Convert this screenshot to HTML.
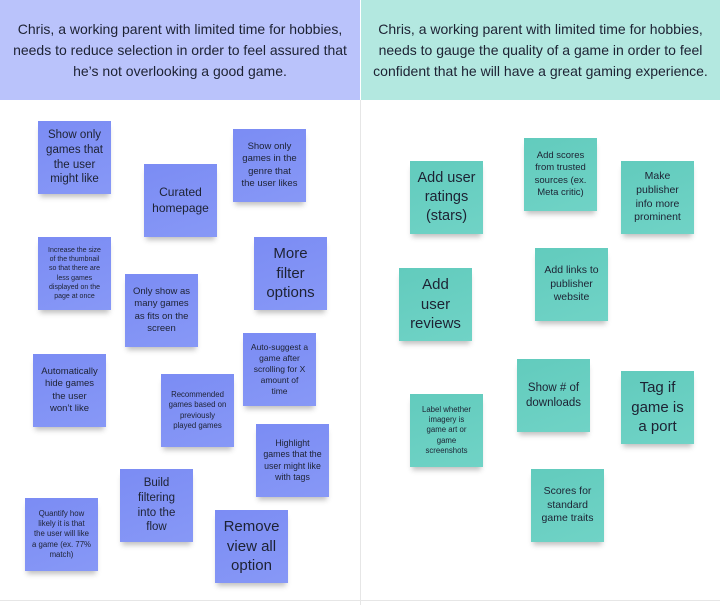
<!DOCTYPE html>
<html><head><meta charset="utf-8"><style>
*{margin:0;padding:0;box-sizing:border-box}
body{width:720px;height:605px;background:#fff;position:relative;overflow:hidden;font-family:"Liberation Sans",sans-serif;color:#1d2233}
.hd{position:absolute;top:0;height:100px;display:flex;align-items:center;justify-content:center;text-align:center;font-size:14px;line-height:21px;padding:0 12px}
.s{position:absolute;width:73px;height:73px;display:flex;align-items:center;justify-content:center;text-align:center;padding:0;line-height:1.3;white-space:nowrap;box-shadow:0 5px 5px -2px rgba(0,0,0,0.25)}
.p{background:linear-gradient(160deg,#7b8cf4,#8798f6)}
.t{background:linear-gradient(160deg,#62cbbd,#70d3c6)}
</style></head><body>
<div class="hd" style="left:0;width:360px;background:#bac3fb">Chris, a working parent with limited time for hobbies, needs to reduce selection in order to feel assured that he’s not overlooking a good game.</div>
<div class="hd" style="left:361px;width:359px;background:#b3e8e0">Chris, a working parent with limited time for hobbies, needs to gauge the quality of a game in order to feel confident that he will have a great gaming experience.</div>
<div style="position:absolute;left:360px;top:100px;width:1px;height:505px;background:#e6e6e6"></div>
<div style="position:absolute;left:0;top:600px;width:720px;height:1px;background:#e6e6e6"></div>

<div class="s p" style="left:38px;top:121px;font-size:11.5px">Show only<br>games that<br>the user<br>might like</div>
<div class="s p" style="left:144px;top:164px;font-size:12px">Curated<br>homepage</div>
<div class="s p" style="left:233px;top:129px;font-size:9.5px">Show only<br>games in the<br>genre that<br>the user likes</div>
<div class="s p" style="left:38px;top:237px;font-size:7px">Increase the size<br>of the thumbnail<br>so that there are<br>less games<br>displayed on the<br>page at once</div>
<div class="s p" style="left:125px;top:274px;font-size:9.5px">Only show as<br>many games<br>as fits on the<br>screen</div>
<div class="s p" style="left:254px;top:237px;font-size:15px">More<br>filter<br>options</div>
<div class="s p" style="left:243px;top:333px;font-size:8.5px">Auto-suggest a<br>game after<br>scrolling for X<br>amount of<br>time</div>
<div class="s p" style="left:33px;top:354px;font-size:9.5px">Automatically<br>hide games<br>the user<br>won’t like</div>
<div class="s p" style="left:161px;top:374px;font-size:7.8px">Recommended<br>games based on<br>previously<br>played games</div>
<div class="s p" style="left:256px;top:424px;font-size:8.8px">Highlight<br>games that the<br>user might like<br>with tags</div>
<div class="s p" style="left:120px;top:469px;font-size:11.5px">Build<br>filtering<br>into the<br>flow</div>
<div class="s p" style="left:25px;top:498px;font-size:7.8px">Quantify how<br>likely it is that<br>the user will like<br>a game (ex. 77%<br>match)</div>
<div class="s p" style="left:215px;top:510px;font-size:15px">Remove<br>view all<br>option</div>

<div class="s t" style="left:410px;top:161px;font-size:14.5px">Add user<br>ratings<br>(stars)</div>
<div class="s t" style="left:524px;top:138px;font-size:9.5px">Add scores<br>from trusted<br>sources (ex.<br>Meta critic)</div>
<div class="s t" style="left:621px;top:161px;font-size:10.5px">Make<br>publisher<br>info more<br>prominent</div>
<div class="s t" style="left:399px;top:268px;font-size:15px">Add<br>user<br>reviews</div>
<div class="s t" style="left:535px;top:248px;font-size:10.5px">Add links to<br>publisher<br>website</div>
<div class="s t" style="left:410px;top:394px;font-size:7.8px">Label whether<br>imagery is<br>game art or<br>game<br>screenshots</div>
<div class="s t" style="left:517px;top:359px;font-size:11.5px">Show # of<br>downloads</div>
<div class="s t" style="left:621px;top:371px;font-size:15px">Tag if<br>game is<br>a port</div>
<div class="s t" style="left:531px;top:469px;font-size:10.5px">Scores for<br>standard<br>game traits</div>
</body></html>
